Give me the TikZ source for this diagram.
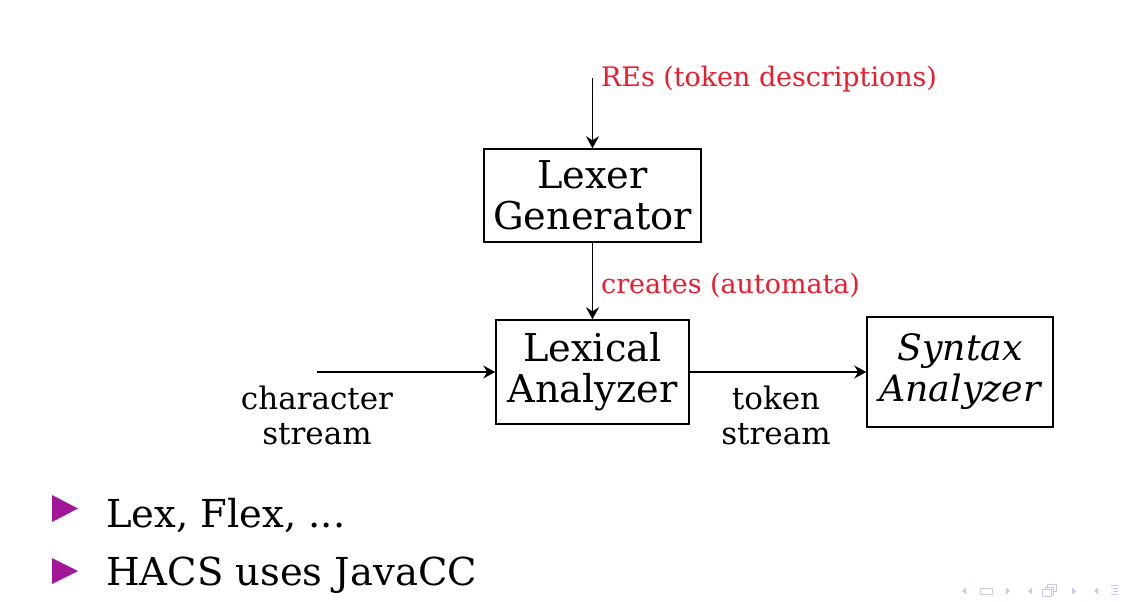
\documentclass[tikz,border=0pt]{standalone}
\usepackage{fontspec}
\setmainfont{DejaVu Serif}
\usetikzlibrary{arrows.meta}
\definecolor{lblred}{RGB}{236,28,44}
\definecolor{bulletcol}{RGB}{162,22,152}
\definecolor{navcol}{RGB}{200,200,235}
\tikzset{
  box/.style={draw, line width=1.5pt, align=center, inner sep=0pt,
    font=\fontsize{38.3}{41}\selectfont},
  arr/.style={line width=1.5pt, -{Stealth[length=12pt,width=13pt,inset=4pt]}},
  redlbl/.style={text=lblred, inner sep=0pt, anchor=base west,
    font=\fontsize{26.9}{30}\selectfont},
  flowlbl/.style={align=center, inner sep=0pt, anchor=north,
    font=\fontsize{31}{35}\selectfont},
  itemtxt/.style={inner sep=0pt, anchor=base west,
    font=\fontsize{38.5}{44}\selectfont},
  bullet/.style={fill=bulletcol, draw=none},
  nav/.style={fill=navcol, draw=none},
  navline/.style={draw=navcol, line width=1pt},
}
\begin{document}
\begin{tikzpicture}[x=1pt,y=-1pt]
\useasboundingbox[fill=white] (0,0) rectangle (1128,602);

% boxes
\node[box, minimum width=217pt, minimum height=93pt] (lg) at (592.5,195.5) {Lexer\\Generator};
\node[box, minimum width=193pt, minimum height=104pt] (la) at (592.5,372) {Lexical\\Analyzer};
\node[box, minimum width=186pt, minimum height=110pt, font=\fontsize{36.3}{41}\selectfont\itshape] (sa) at (960,372) {Syntax\\Analyzer};

% free ends
\coordinate (resrc) at (592.5,78);
\coordinate (csrc) at (317,372);

% connectors
\draw[arr] (resrc) -- (lg);
\draw[arr] (lg) -- (la);
\draw[arr] (csrc) -- (la);
\draw[arr] (la) -- (sa);

% labels
\node[redlbl] (relbl) at (601,87) {REs (token descriptions)};
\node[redlbl] (crlbl) at (601,293) {creates (automata)};
\node[flowlbl] (cslbl) at (317,386) {character\\stream};
\node[flowlbl] (tslbl) at (776,386) {token\\stream};

% bullets
\fill[bullet] (52,495) -- (78,508.5) -- (52,522) -- cycle;
\fill[bullet] (52,558) -- (78,571) -- (52,584) -- cycle;
\node[itemtxt] (item1) at (106,527) {Lex, Flex, ...};
\node[itemtxt] (item2) at (106,585) {HACS uses JavaCC};

% navigation symbols
\fill[nav] (966,587.5) -- (962,591) -- (966,594.5) -- cycle;
\draw[navline] (980.5,588) rectangle (992,594.5);
\fill[nav] (1006,587.5) -- (1010,591) -- (1006,594.5) -- cycle;
\fill[nav] (1032,587.5) -- (1028,591) -- (1032,594.5) -- cycle;
\draw[navline] (1042.5,589.5) rectangle (1051,596.5);
\draw[navline] (1045,589.5) -- (1045,587) -- (1053.5,587) -- (1053.5,594) -- (1051,594);
\draw[navline] (1047.5,587) -- (1047.5,584.5) -- (1056,584.5) -- (1056,591.5) -- (1053.5,591.5);
\fill[nav] (1072,587.5) -- (1076,591) -- (1072,594.5) -- cycle;
\fill[nav] (1098,587.5) -- (1094,591) -- (1098,594.5) -- cycle;
\draw[navline] (1111,585.5) -- (1118,585.5);
\draw[navline] (1112.5,588.5) -- (1118,588.5);
\draw[navline] (1112.5,591.5) -- (1118,591.5);
\draw[navline] (1111,594.5) -- (1118,594.5);
\end{tikzpicture}
\end{document}
